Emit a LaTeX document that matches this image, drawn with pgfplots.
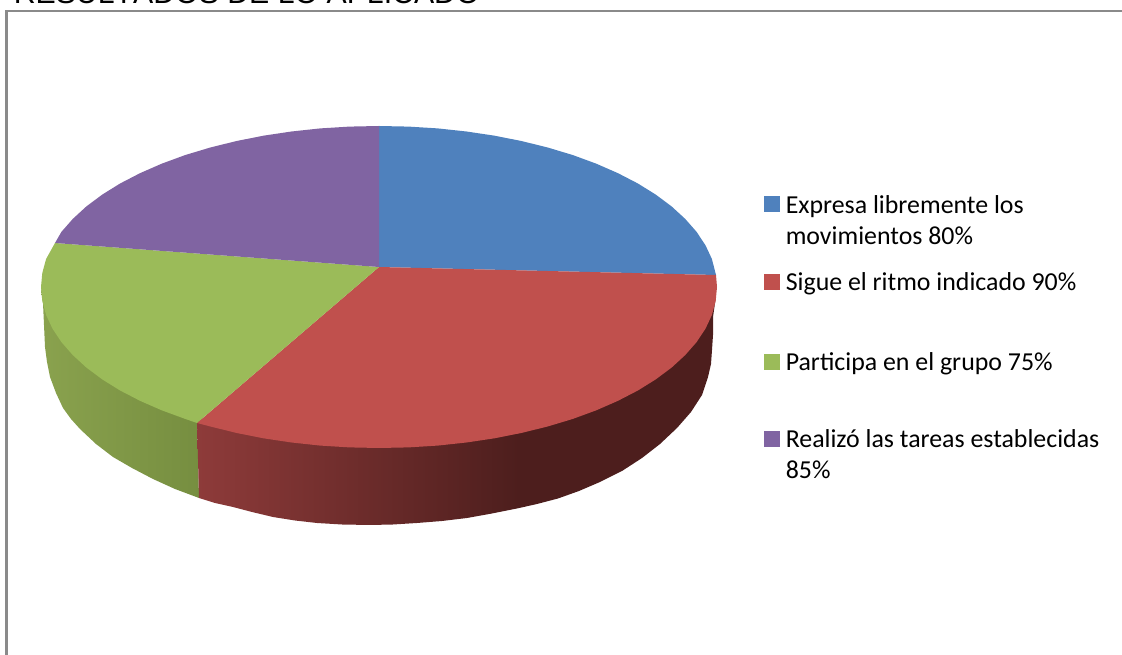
\documentclass[border=0pt]{standalone}
\usepackage{fontspec}
\setmainfont{Carlito}
\newfontfamily\titlefont[Kerning=Off]{Liberation Sans}
\usepackage{pgfplots}
\pgfplotsset{compat=1.18}

\definecolor{sliceblue}{HTML}{4F81BD}
\definecolor{slicered}{HTML}{C0504D}
\definecolor{slicegreen}{HTML}{9BBB59}
\definecolor{slicepurple}{HTML}{8064A2}
\definecolor{framegray}{HTML}{8A8A8A}

% side walls: the centre 50bp of the shading covers the wall's width
\pgfdeclarehorizontalshading{redwall}{100bp}{
  rgb(0bp)=(0.557,0.231,0.227);
  rgb(25bp)=(0.557,0.231,0.227);
  rgb(56bp)=(0.302,0.118,0.114);
  rgb(100bp)=(0.302,0.118,0.114)}
\pgfdeclarehorizontalshading{greenwall}{100bp}{
  rgb(0bp)=(0.54,0.635,0.305);
  rgb(25bp)=(0.54,0.635,0.305);
  rgb(75bp)=(0.463,0.557,0.251);
  rgb(100bp)=(0.463,0.557,0.251)}

\begin{document}
\begin{tikzpicture}
% page size is the axis box; the title runs off its top edge
\path[use as bounding box] (0,0) rectangle (841.5pt,491.25pt);
\begin{axis}[
    at={(0,0)},
    anchor=south west,
    scale only axis,
    width=841.5pt,
    height=491.25pt,
    xmin=0, xmax=1122,
    ymin=0, ymax=655,
    y dir=reverse,
    hide axis,
    clip=false
]
% frame
\addplot[color=framegray, line width=2.1pt] coordinates {(6.5,655) (6.5,10)};
\addplot[color=framegray, line width=1.5pt] coordinates {(5.5,11) (1122,11)};

% walls
\addplot[draw=none, shade, shading=greenwall] coordinates {
    (197,420) (199,498) (175,489) (153,479) (132,468) (113,457) (96,444)
    (80,429) (71,419) (63,408) (56,393) (50,377) (47,362) (45,347) (44,325)
    (43,303) (41,290)
} --cycle;
\addplot[draw=none, shade, shading=redwall] coordinates {
    (716,290) (715,303) (713,317) (713,335) (712,350) (711,364) (708,377)
    (702,395) (691,412) (677,428) (660,444) (642,458) (622,471) (600,482)
    (579,491) (558,498.5) (537,504) (517,508.5) (492,513.5) (467,518) (442,521)
    (417,523) (393,524.5) (370,525) (342,524.5) (317,523) (295,520.5)
    (273,517) (252,512) (233,507) (215,503) (199,498) (197,420)
} --cycle;

% top of the pie
\addplot[draw=none, fill=sliceblue] coordinates {
    (379,267) (379,126) (408.5,126.6) (437.7,128.4) (466.5,131.5) (494.6,135.7)
    (521.8,141.1) (548,147.6) (572.9,155.1) (596.3,163.7) (618,173.2)
    (637.9,183.5) (655.9,194.7) (671.7,206.5) (685.3,219) (696.6,231.9)
    (705.5,245.3) (711.9,259) (716,275)
} --cycle;
\addplot[draw=none, fill=slicered] coordinates {
    (379,267) (716,275) (717,287) (715.7,301) (711.9,315) (705.5,328.7)
    (696.6,342.1) (685.3,355) (671.7,367.5) (655.9,379.3) (637.9,390.5)
    (618,400.8) (596.3,410.3) (572.9,418.9) (548,426.4) (521.8,432.9)
    (494.6,438.3) (466.5,442.5) (437.7,445.6) (408.5,447.4) (379,448)
    (349.5,447.4) (320.3,445.6) (291.5,442.5) (263.4,438.3) (236.2,432.9)
    (210,426.4) (197,423)
} --cycle;
\addplot[draw=none, fill=slicegreen] coordinates {
    (379,267) (197,423) (185.1,418.9) (161.7,410.3) (140,400.8) (120.1,390.5)
    (102.1,379.3) (86.3,367.5) (72.7,355) (61.4,342.1) (52.5,328.7) (46.1,315)
    (42.3,301) (41,287) (42.3,273) (46.1,259) (55,243)
} --cycle;
\addplot[draw=none, fill=slicepurple] coordinates {
    (379,267) (55,243) (61.4,231.9) (72.7,219) (86.3,206.5) (102.1,194.7)
    (120.1,183.5) (140,173.2) (161.7,163.7) (185.1,155.1) (210,147.6)
    (236.2,141.1) (263.4,135.7) (291.5,131.5) (320.3,128.4) (349.5,126.6)
    (379,126)
} --cycle;

% legend keys
\addplot[only marks, mark=square*, mark size=5.6pt, color=sliceblue] coordinates {(771.5,204)};
\addplot[only marks, mark=square*, mark size=5.6pt, color=slicered] coordinates {(771.5,282)};
\addplot[only marks, mark=square*, mark size=5.6pt, color=slicegreen] coordinates {(771.5,362)};
\addplot[only marks, mark=square*, mark size=5.6pt, color=slicepurple] coordinates {(771.5,439)};

\tikzset{legendtext/.style={anchor=base west, inner sep=0pt, font=\fontsize{19.4pt}{23pt}\selectfont}}
\node[legendtext] at (axis cs:785.5,213.5) {Expresa libremente los};
\node[legendtext] at (axis cs:785.5,244.5) {movimientos 80\%};
\node[legendtext] at (axis cs:785.5,291) {Sigue el ritmo indicado 90\%};
\node[legendtext] at (axis cs:785.5,370.5) {Participa en el grupo 75\%};
\node[legendtext] at (axis cs:785.5,448) {Realizó las tareas establecidas};
\node[legendtext] at (axis cs:785.5,479) {85\%};

% title, cut by the top edge of the page
\node[anchor=base west, inner sep=0pt, font=\titlefont\fontsize{22.7pt}{26pt}\selectfont] at (axis cs:13.5,4) {RESULTADOS DE LO APLICADO};
\end{axis}
\end{tikzpicture}
\end{document}
